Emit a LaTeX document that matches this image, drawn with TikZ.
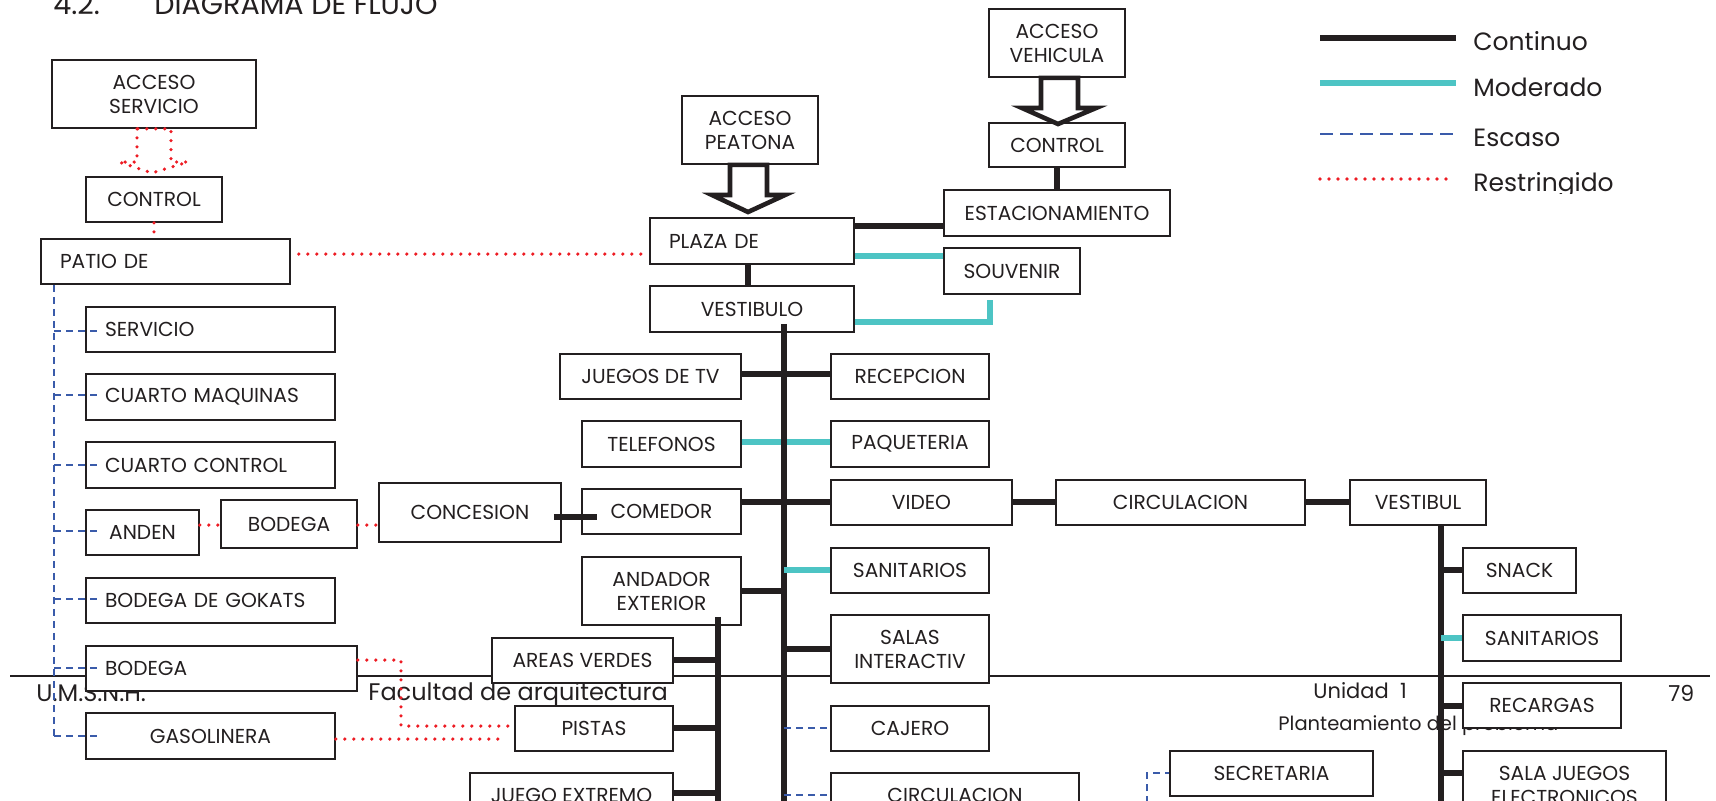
\documentclass[tikz,border=0pt]{standalone}
\usepackage{fontspec}
\setmainfont{Poppins}
\definecolor{ink}{HTML}{231F20}
\definecolor{tealc}{HTML}{4DC4C4}
\definecolor{bluec}{HTML}{3A5BAA}
\definecolor{redc}{HTML}{ED1C24}
\newcommand\fsbox{\fontsize{10.1}{12}\selectfont}
\newcommand\bx[7][]{%
  \pgfmathsetmacro\bxW{(#5-#3)*0.5}%
  \pgfmathsetmacro\bxH{(#6-#4)*0.5}%
  \pgfmathsetmacro\bxX{(#3+#5)/2}%
  \pgfmathsetmacro\bxY{(#4+#6)/2}%
  \node[box, minimum width=\bxW pt, minimum height=\bxH pt, #1] (#2) at (\bxX,\bxY) {#7};}
\newcommand\bxl[7][]{%
  \pgfmathsetmacro\bxW{(#5-#3)*0.5-19}%
  \pgfmathsetmacro\bxH{(#6-#4)*0.5}%
  \pgfmathsetmacro\bxX{(#3+#5)/2}%
  \pgfmathsetmacro\bxY{(#4+#6)/2}%
  \node[box, text width=\bxW pt, align=left, inner xsep=9.5pt, minimum height=\bxH pt, #1] (#2) at (\bxX,\bxY) {#7};}
\tikzset{
  box/.style={draw=ink, line width=0.8pt, fill=white, inner sep=0pt, align=center, font=\fsbox, text=ink},
  cont/.style={draw=ink, line width=2.6pt},
  mod/.style={draw=tealc, line width=2.6pt},
  esc/.style={draw=bluec, line width=0.75pt, dash pattern=on 3.5pt off 2.5pt},
  res/.style={draw=redc, line width=1.8pt, dash pattern=on 0pt off 4.5pt, line cap=round},
  harrow/.style={draw=ink, line width=2.3pt, fill=white, line join=miter, miter limit=10},
  ftext/.style={anchor=base west, inner sep=0pt, text=ink},
}
\begin{document}
\begin{tikzpicture}[x=0.5pt,y=-0.5pt]
\useasboundingbox (0,0) rectangle (1716,800);
\clip (0,0) rectangle (1716,800);
% title
\node[ftext, font=\fontsize{14.3}{16}\selectfont] (tnum) at (53,14) {4.2.};
\node[ftext, font=\fontsize{14.3}{16}\selectfont] (ttl) at (154,14) {DIAGRAMA DE FLUJO};
% footer
\draw[draw=ink, line width=0.6pt] (10,676) coordinate (fl) -- (1710,676) coordinate (fr);
\node[ftext, font=\fontsize{12}{14}\selectfont] (f1) at (36,701) {U.M.S.N.H.};
\node[ftext, font=\fontsize{12}{14}\selectfont] (f2) at (368,700) {Facultad de arquitectura};
\node[ftext, font=\fontsize{10.5}{12}\selectfont] (f3) at (1313,698) {Unidad\ \ 1};
\node[ftext, font=\fontsize{11}{12}\selectfont] (f4) at (1668,701) {79};
\node[ftext, font=\fontsize{9.75}{12}\selectfont] (f5) at (1278,730) {Planteamiento del problema};
% legend
\draw[cont] (1320,38) coordinate (la1) -- (1456,38) coordinate (la2);
\draw[mod] (1320,83) coordinate (lb1) -- (1456,83) coordinate (lb2);
\draw[esc, dash pattern=on 6.5pt off 3.5pt] (1320,134) coordinate (lc1) -- (1456,134) coordinate (lc2);
\draw[res] (1320,179) coordinate (ld1) -- (1452,179) coordinate (ld2);
\node[ftext, font=\fontsize{12.5}{14}\selectfont] (lga) at (1473,50) {Continuo};
\node[ftext, font=\fontsize{12.5}{14}\selectfont] (lgb) at (1473,96) {Moderado};
\node[ftext, font=\fontsize{12.5}{14}\selectfont] (lgc) at (1473,146) {Escaso};
\begin{scope}
\clip (1460,150) rectangle (1716,193);
\node[ftext, font=\fontsize{12.5}{14}\selectfont] (lgd) at (1473,191) {Restringido};
\end{scope}
% left column boxes
\bx{accserv}{52}{60}{256}{128}{ACCESO\\SERVICIO}
\bx{ctrlL}{86}{177}{222}{222}{CONTROL}
\bxl{patio}{41}{239}{290}{284}{PATIO DE}
\bxl{servicio}{86}{307}{335}{352}{SERVICIO}
\bxl{cmaq}{86}{374}{335}{420}{CUARTO MAQUINAS}
\bxl{cctrl}{86}{442}{335}{488}{CUARTO CONTROL}
\bx{anden}{86}{510}{199}{555}{ANDEN}
\bx{bodegaA}{221}{500}{357}{548}{BODEGA}
\bx[yshift=3pt]{concesion}{379}{489}{561}{548}{CONCESION}
\bxl{gokats}{86}{578}{335}{623}{BODEGA DE GOKATS}
\bxl{bodegaB}{86}{646}{357}{691}{BODEGA}
\bx{gasolinera}{86}{713}{335}{759}{GASOLINERA}
% centre boxes
\bx{accpeat}{682}{96}{818}{164}{ACCESO\\PEATONA}
\bxl{plaza}{650}{218}{854}{264}{PLAZA DE}
\bx{vestibulo}{650}{286}{854}{332}{VESTIBULO}
\bx{accveh}{989}{9}{1125}{77}{ACCESO\\VEHICULA}
\bx{ctrlR}{989}{123}{1125}{167}{CONTROL}
\bx{estac}{944}{190}{1170}{236}{ESTACIONAMIENTO}
\bx{souvenir}{944}{248}{1080}{294}{SOUVENIR}
\bx{juegostv}{560}{354}{741}{399}{JUEGOS DE TV}
\bx{recepcion}{831}{354}{989}{399}{RECEPCION}
\bx{telefonos}{582}{421}{741}{467}{TELEFONOS}
\bx{paqueteria}{831}{421}{989}{467}{PAQUETERIA}
\bx{comedor}{582}{489}{741}{534}{COMEDOR}
\bx{video}{831}{480}{1012}{525}{VIDEO}
\bx{sanitarios}{831}{548}{989}{593}{SANITARIOS}
\bx{andador}{582}{557}{741}{625}{ANDADOR\\EXTERIOR}
\bx{areas}{492}{638}{673}{683}{AREAS VERDES}
\bx{salas}{831}{615}{989}{683}{SALAS\\INTERACTIV}
\bx{pistas}{515}{706}{673}{751}{PISTAS}
\bx{cajero}{831}{706}{989}{751}{CAJERO}
\bx{jextremo}{470}{773}{673}{818}{JUEGO EXTREMO}
\bx{circB}{831}{773}{1079}{818}{CIRCULACION}
% right boxes
\bx{circA}{1056}{480}{1305}{525}{CIRCULACION}
\bx{vestibul}{1350}{480}{1486}{525}{VESTIBUL}
\bx{snack}{1463}{548}{1576}{593}{SNACK}
\bx{sanitB}{1463}{615}{1621}{661}{SANITARIOS}
\bx{recargas}{1463}{683}{1621}{728}{RECARGAS}
\bx{secretaria}{1170}{751}{1373}{796}{SECRETARIA}
\bx{salajuegos}{1463}{751}{1666}{820}{SALA JUEGOS\\ELECTRONICOS}
% hollow arrows
\draw[harrow] (accpeat.south -| 730,0) -- (730,195) -- (712,195) -- (748,212) -- (785,195) -- (767,195) -- (accpeat.south -| 767,0) -- cycle;
\draw[harrow] (accveh.south -| 1041,0) -- (1041,108) -- (1022,108) -- (1058,124) -- (1096,108) -- (1078,108) -- (accveh.south -| 1078,0) -- cycle;
\draw[res] (accserv.south -| 137,0) -- (137,162) -- (119,162) -- (152,173) -- (188,162) -- (171,162) -- (accserv.south -| 171,0) -- cycle;
% restricted
\draw[res] (ctrlL.south) -- (ctrlL.south |- patio.north);
\draw[res, shorten <=4pt] (patio.east |- 0,254) -- (plaza.west |- 0,254);
\draw[res] (anden.east |- 0,525) -- (bodegaA.west |- 0,525);
\draw[res] (bodegaA.east |- 0,525) -- (concesion.west |- 0,525);
\coordinate (rbend) at (401,726);
\draw[res] (bodegaB.east |- 0,660) -| (rbend) -- (pistas.west |- rbend);
\draw[res, shorten >=4pt] (gasolinera.east |- 0,739) -- (pistas.west |- 0,739);
% top connectors
\draw[cont] (plaza.south -| 748,0) -- (vestibulo.north -| 748,0);
\draw[cont] (plaza.east |- 0,226) -- (estac.west |- 0,226);
\draw[mod] (plaza.east |- 0,256) -- (souvenir.west |- 0,256);
\coordinate (souvx) at (990,300);
\draw[mod] (vestibulo.east |- 0,322) -| (souvx);
\draw[cont] (ctrlR.south -| 1057,0) -- (estac.north -| 1057,0);
% escaso, left trunk
\coordinate (ltrunk) at (54,736);
\draw[esc] (patio.south -| ltrunk) -- (ltrunk);
\draw[esc, shorten >=-7pt] (54,331) -- (servicio.west |- 0,331);
\draw[esc, shorten >=-7pt] (54,395) -- (cmaq.west |- 0,395);
\draw[esc, shorten >=-7pt] (54,465) -- (cctrl.west |- 0,465);
\draw[esc, shorten >=-7pt] (54,531) -- (anden.west |- 0,531);
\draw[esc, shorten >=-7pt] (54,599) -- (gokats.west |- 0,599);
\draw[esc, shorten >=-7pt] (54,668) -- (bodegaB.west |- 0,668);
\draw[esc, shorten >=-7pt] (ltrunk) -- (gasolinera.west |- ltrunk);
% spine
\coordinate (spineEnd) at (784,815);
\draw[mod] (telefonos.east |- 0,442) -- (paqueteria.west |- 0,442);
\draw[cont] (juegostv.east |- 0,374) -- (recepcion.west |- 0,374);
\draw[cont] (comedor.east |- 0,502) -- (video.west |- 0,502);
\draw[cont] ([yshift=4.5pt]vestibulo.south -| spineEnd) -- (spineEnd);
\draw[cont] (andador.east |- 0,591) -- (spineEnd |- 0,591);
\draw[mod] (spineEnd |- 0,570) -- (sanitarios.west |- 0,570);
\draw[cont] (spineEnd |- 0,649) -- (salas.west |- 0,649);
\draw[esc] (spineEnd |- 0,728) -- (cajero.west |- 0,728);
\draw[esc] (spineEnd |- 0,795) -- (circB.west |- 0,795);
\draw[cont, shorten <=-4pt, shorten >=-8pt] (concesion.east |- 0,517) -- (comedor.west |- 0,517);
% andador branch
\coordinate (aEnd) at (718,815);
\draw[cont] ([yshift=4.5pt]andador.south -| aEnd) -- (aEnd);
\draw[cont] (areas.east |- 0,660) -- (aEnd |- 0,660);
\draw[cont] (pistas.east |- 0,728) -- (aEnd |- 0,728);
\draw[cont] (jextremo.east |- 0,793) -- (aEnd |- 0,793);
% right branch
\draw[cont] (video.east |- 0,502) -- (circA.west |- 0,502);
\draw[cont] (circA.east |- 0,502) -- (vestibul.west |- 0,502);
\coordinate (rEnd) at (1441,815);
\draw[cont] (vestibul.south -| rEnd) -- (rEnd);
\draw[cont] (rEnd |- 0,570) -- (snack.west |- 0,570);
\draw[mod] (rEnd |- 0,638) -- (sanitB.west |- 0,638);
\draw[cont] (rEnd |- 0,706) -- (recargas.west |- 0,706);
\draw[cont] (rEnd |- 0,773) -- (salajuegos.west |- 0,773);
\coordinate (secEnd) at (1147,815);
\draw[esc] (secEnd) |- (secretaria.west |- 0,773);
\end{tikzpicture}
\end{document}
